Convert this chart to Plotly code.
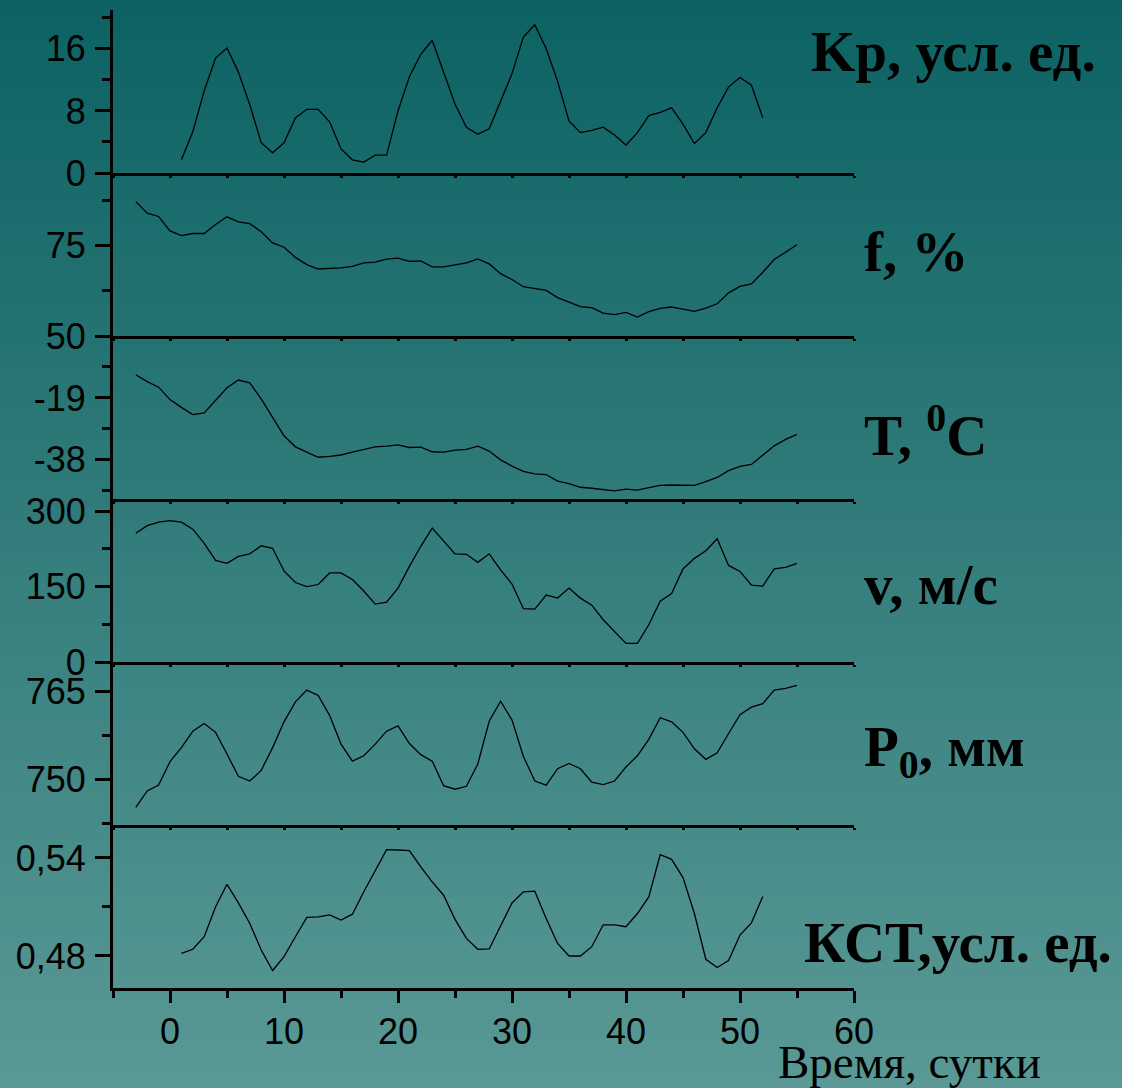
import plotly.graph_objects as go
from plotly.subplots import make_subplots

# ---------------- data ----------------
days_kp = list(range(1, 53))
kp = [1.7, 5.3, 10.6, 14.8, 16.1, 13.0, 8.8, 3.9, 2.6, 3.9, 7.1, 8.2, 8.2, 6.6, 3.1, 1.7,
      1.4, 2.3, 2.3, 8.0, 12.4, 15.3, 17.1, 12.9, 8.9, 5.9, 5.0, 5.7, 9.2, 12.8, 17.5, 19.1,
      16.0, 11.8, 6.7, 5.2, 5.5, 5.9, 4.9, 3.6, 5.2, 7.4, 7.8, 8.4, 6.3, 3.8, 5.2, 8.4,
      11.1, 12.3, 11.3, 7.1]

days_met = list(range(-3, 56))
f_hum = [87.1, 83.9, 83.0, 79.0, 77.7, 78.3, 78.3, 80.8, 82.9, 81.5, 81.0, 78.8, 75.7, 74.5,
         71.7, 69.7, 68.5, 68.6, 68.8, 69.2, 70.2, 70.4, 71.2, 71.5, 70.6, 70.7, 69.1, 69.1,
         69.7, 70.2, 71.3, 69.9, 67.2, 65.6, 63.6, 63.1, 62.6, 60.6, 59.4, 58.1, 57.8, 56.3,
         55.9, 56.5, 55.2, 56.7, 57.6, 58.0, 57.4, 56.8, 57.7, 58.9, 61.9, 63.7, 64.4, 67.6,
         71.1, 73.1, 75.2]
temp = [-11.9, -14.0, -15.7, -19.5, -21.9, -24.1, -23.6, -19.8, -15.9, -13.5, -14.4, -19.3,
        -25.0, -30.6, -34.0, -35.6, -37.2, -36.9, -36.5, -35.6, -34.7, -34.0, -33.8, -33.4,
        -34.2, -34.1, -35.5, -35.6, -35.0, -34.8, -33.8, -35.3, -38.0, -39.9, -41.5, -42.3,
        -42.5, -44.5, -45.3, -46.4, -46.7, -47.2, -47.5, -47.0, -47.3, -46.5, -45.8, -45.7,
        -45.7, -45.8, -44.7, -43.4, -41.3, -40.0, -39.4, -36.6, -33.7, -31.7, -30.2]
wind = [256, 271, 278, 281, 278, 264, 236, 202, 196, 210, 215, 231, 226, 181, 158, 150, 154,
        177, 177, 164, 141, 115, 119, 147, 190, 230, 266, 241, 215, 214, 198, 215, 183, 155,
        106, 105, 133, 127, 147, 127, 113, 84, 60, 37, 37, 74, 121, 136, 185, 206, 221, 245,
        192, 180, 153, 151, 185, 188, 196]
pressure = [745.2, 748.0, 749.0, 753.0, 755.4, 758.2, 759.5, 758.0, 754.3, 750.5, 749.7, 751.5,
            755.4, 759.8, 763.2, 765.2, 764.3, 760.9, 756.0, 753.1, 754.0, 756.0, 758.2, 759.1,
            756.1, 754.2, 753.1, 748.9, 748.3, 748.8, 752.6, 759.9, 763.3, 760.1, 753.9, 749.7,
            749.0, 751.8, 752.7, 751.8, 749.5, 749.1, 749.7, 752.1, 754.0, 756.8, 760.5, 759.8,
            758.0, 755.2, 753.4, 754.5, 757.8, 761.0, 762.3, 762.9, 765.2, 765.5, 766.0]

days_kst = list(range(1, 53))
kst = [0.4816, 0.4841, 0.4918, 0.5101, 0.5239, 0.5125, 0.4999, 0.4837, 0.4711, 0.4796, 0.4918,
       0.5036, 0.5040, 0.5052, 0.5020, 0.5056, 0.5193, 0.5325, 0.5451, 0.5449, 0.5445, 0.5345,
       0.5254, 0.5172, 0.5024, 0.4908, 0.4841, 0.4843, 0.4979, 0.5125, 0.5193, 0.5197, 0.5030,
       0.4877, 0.4800, 0.4800, 0.4857, 0.4991, 0.4991, 0.4979, 0.5060, 0.5162, 0.5420, 0.5392,
       0.5280, 0.5060, 0.4780, 0.4729, 0.4772, 0.4928, 0.5003, 0.5164]

panel_labels = ["Kp, усл. ед.", "f, %", "T, <sup>0</sup>C", "v, м/с", "P<sub>0</sub>, мм", "КСТ,усл. ед."]
x_title = "Время, сутки"

# axis settings per panel
y_ranges = [[0, 21], [50, 95], [-50, 0], [0, 324], [742.2, 770], [0.4604, 0.5602]]
y_major = [[0, 8, 16], [50, 75], [-38, -19], [0, 150, 300], [750, 765], [0.48, 0.54]]
y_major_text = [["0", "8", "16"], ["50", "75"], ["-38", "-19"], ["0", "150", "300"],
                ["750", "765"], ["0,48", "0,54"]]
y_minor = [[4, 12, 20], [62.5, 87.5], [-47.5, -28.5, -9.5], [75, 225], [742.5, 757.5], [0.51]]
x_major = [0, 10, 20, 30, 40, 50, 60]
x_minor = [-5, 5, 15, 25, 35, 45, 55]

series = [(days_kp, kp), (days_met, f_hum), (days_met, temp), (days_met, wind),
          (days_met, pressure), (days_kst, kst)]

# ---------------- figure ----------------
fig = make_subplots(rows=6, cols=1, shared_xaxes=True, vertical_spacing=0)

for i, (xs, ys) in enumerate(series):
    fig.add_trace(go.Scatter(x=xs, y=ys, mode="lines",
                             line=dict(color="black", width=1.3),
                             showlegend=False, hoverinfo="skip"), row=i + 1, col=1)

tickfont = dict(family="Liberation Sans, Arial, sans-serif", size=36, color="black")
N = 6
for i in range(N):
    r = i + 1
    lo = (N - 1 - i) / N
    hi = (N - i) / N
    yname = "yaxis" if r == 1 else f"yaxis{r}"
    xname = "xaxis" if r == 1 else f"xaxis{r}"
    fig.layout[yname].update(
        domain=[lo, hi], range=y_ranges[i], showgrid=False, zeroline=False,
        showline=True, linecolor="black", linewidth=3, automargin=False,
        tickmode="array", tickvals=y_major[i], ticktext=y_major_text[i],
        ticks="outside", ticklen=15, tickwidth=2.5, tickcolor="black",
        tickfont=tickfont, ticklabelstandoff=2,
        minor=dict(tickvals=y_minor[i], ticks="outside", ticklen=8, tickwidth=2.5,
                   tickcolor="black", showgrid=False),
    )
    bottom = (r == N)
    fig.layout[xname].update(
        range=[-5, 60], showgrid=False, zeroline=False, automargin=False,
        showline=True, linecolor="black", linewidth=3,
        tickmode="array", tickvals=x_major,
        ticks="outside", ticklen=12 if bottom else 2, tickwidth=2.5, tickcolor="black",
        showticklabels=bottom, tickfont=tickfont, ticklabelstandoff=-2,
        minor=dict(tickvals=x_minor, ticks="outside", ticklen=7 if bottom else 2,
                   tickwidth=2.5, tickcolor="black", showgrid=False),
    )

# ---------------- background gradient ----------------
W, H = 1122, 1088
ml, mr, mt, mb = 113, 268, 10, 100
pw, ph = W - ml - mr, H - mt - mb
top_rgb = (12, 98, 99)
bot_rgb = (90, 153, 149)
nstrip = 120
shapes = []
for k in range(nstrip):
    t0 = k / nstrip
    t1 = (k + 1) / nstrip
    tm = (t0 + t1) / 2
    c = tuple(round(top_rgb[j] + (bot_rgb[j] - top_rgb[j]) * tm) for j in range(3))
    py0 = t0 * H - (20 if k == 0 else 0)
    py1 = t1 * H + (21 if k == nstrip - 1 else 1)
    shapes.append(dict(type="rect", xref="paper", yref="paper",
                       x0=(0 - ml) / pw - 0.05, x1=(W - ml) / pw + 0.05,
                       y0=(H - mb - py1) / ph, y1=(H - mb - py0) / ph,
                       fillcolor=f"rgb{c}", line=dict(width=0), layer="below"))

# ---------------- annotations ----------------
def px_x(px):
    return (px - ml) / pw

def px_y(py):
    return (H - mb - py) / ph

lab_font = dict(family="Liberation Serif, Times New Roman, serif", size=57, color="black")
label_pos = [(809, 51), (862, 252), (862, 431), (862, 584), (862, 751), (802, 942)]
annotations = []
for text, (lx, ly) in zip(panel_labels, label_pos):
    annotations.append(dict(text=f"<b>{text}</b>", x=px_x(lx), y=px_y(ly), xref="paper",
                            yref="paper", xanchor="left", yanchor="middle", showarrow=False,
                            font=lab_font))
annotations.append(dict(text=x_title, x=px_x(909), y=px_y(1062), xref="paper", yref="paper",
                        xanchor="center", yanchor="middle", showarrow=False,
                        font=dict(family="Liberation Serif, Times New Roman, serif", size=47,
                                  color="black")))

fig.update_layout(
    width=W, height=H,
    margin=dict(l=ml, r=mr, t=mt, b=mb, pad=0, autoexpand=False),
    paper_bgcolor=f"rgb{top_rgb}", plot_bgcolor="rgba(0,0,0,0)",
    shapes=shapes, annotations=annotations, showlegend=False,
)

fig.write_html("out.html", config={"displayModeBar": False},
               post_script="document.body.style.margin='0';document.body.style.overflow='hidden';")
